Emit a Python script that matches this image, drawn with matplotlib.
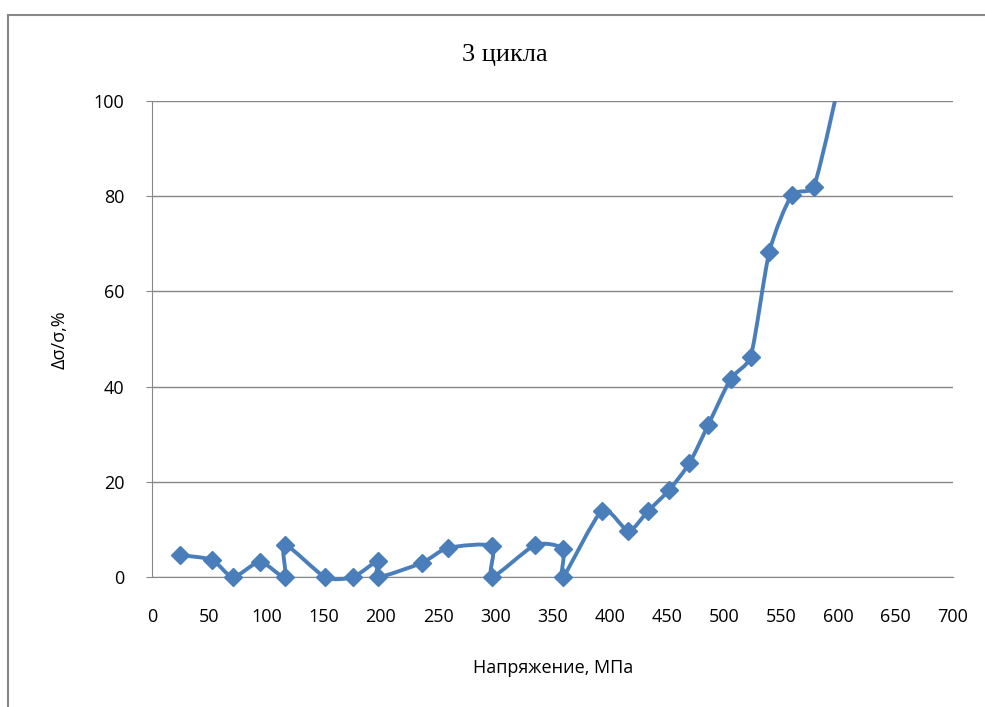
import numpy as np
import matplotlib
matplotlib.use("Agg")
import matplotlib.pyplot as plt
from matplotlib.path import Path
from matplotlib.patches import PathPatch, Rectangle

# stress, MPa
stress = [24.5, 52.4, 70.8, 94.4, 116.0, 116.0, 151.2, 175.7, 197.5, 197.5,
          236.0, 258.7, 297.0, 297.0, 334.7, 359.2, 359.2, 393.3, 416.3, 433.7,
          452.0, 469.6, 486.2, 505.7, 523.2, 539.5, 559.0, 578.5, 608.0]
# relative change, %
delta = [4.6, 3.6, 0.0, 3.2, 0.0, 6.8, 0.0, 0.0, 3.4, 0.0,
         3.0, 6.1, 6.5, 0.0, 6.7, 5.9, 0.0, 13.9, 9.7, 13.9,
         18.3, 23.9, 32.0, 41.6, 46.3, 68.3, 80.2, 82.0, 112.0]

x_ticks = list(range(0, 701, 50))
y_ticks = list(range(0, 101, 20))

blue = "#4a7ebb"
grey = "#878787"
tick_font = "Open Sans"

fig = plt.figure(figsize=(9.85, 7.07), dpi=100)
fig.patches.append(Rectangle((8 / 985, -0.1), 1.1, 1 - 15 / 707 + 0.1,
                             transform=fig.transFigure, fill=False,
                             edgecolor=grey, linewidth=1.5))

ax = fig.add_axes([152 / 985, 1 - 577 / 707, (953 - 152) / 985, (577 - 101) / 707])
ax.set_xlim(0, 700)
ax.set_ylim(0, 100)

# smoothed line, control points worked out in display space
pts = ax.transData.transform(np.column_stack([stress, delta]))
verts = [pts[0]]
codes = [Path.MOVETO]
n = len(pts)
f = 0.12
for i in range(n - 1):
    p0 = pts[i - 1] if i > 0 else pts[i]
    p1 = pts[i]
    p2 = pts[i + 1]
    p3 = pts[i + 2] if i + 2 < n else pts[i + 1]
    seg = np.hypot(*(p2 - p1))
    t1 = (p2 - p0) * f
    t2 = (p3 - p1) * f
    for t in (t1, t2):
        ln = np.hypot(*t)
        if ln > 0.35 * seg:
            t *= 0.35 * seg / ln
    verts += [p1 + t1, p2 - t2, p2]
    codes += [Path.CURVE4] * 3
verts = ax.transData.inverted().transform(np.array(verts))
line = PathPatch(Path(verts, codes), facecolor="none", edgecolor=blue,
                 linewidth=2.8, zorder=3)
ax.add_patch(line)
clip = Rectangle((-10, -5), 720, 105, transform=ax.transData)
line.set_clip_path(clip)
ax.plot(stress[:-1], delta[:-1], linestyle="none", marker="D", markersize=9.5,
        color=blue, zorder=4, clip_on=False)

ax.set_xticks(x_ticks)
ax.set_yticks(y_ticks)
ax.yaxis.grid(True, color=grey, linewidth=1)
ax.set_axisbelow(True)

for s in ["top", "right"]:
    ax.spines[s].set_visible(False)
ax.spines["left"].set_color(grey)
ax.spines["bottom"].set_color(grey)

ax.tick_params(axis="x", length=0, pad=22, labelsize=13, colors="#000000")
ax.tick_params(axis="y", length=4, pad=16, labelsize=13, color=grey)
for lab in ax.get_xticklabels() + ax.get_yticklabels():
    lab.set_fontfamily(tick_font)

fig.text(505 / 985, 1 - 55 / 707, "3 цикла", ha="center", va="center",
         fontsize=19, family="Liberation Serif")
fig.text(553 / 985, 1 - 668 / 707, "Напряжение, МПа", ha="center", va="center",
         fontsize=13, family=tick_font)
fig.text(60 / 985, 1 - 340 / 707, "Δσ/σ,%", ha="center", va="center",
         rotation=90, fontsize=13, family=tick_font)

fig.savefig("out.png", dpi=100)
